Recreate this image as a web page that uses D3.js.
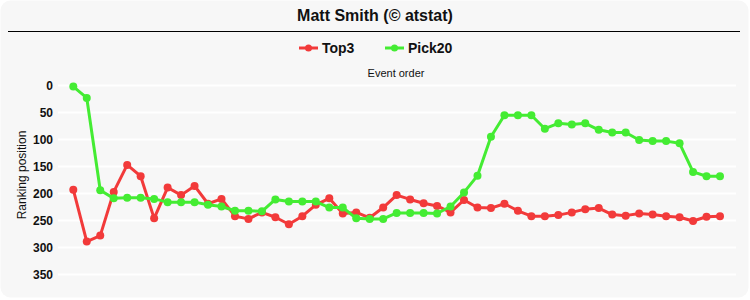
<!DOCTYPE html>
<html>
<head>
<meta charset="utf-8">
<script src="https://cdn.jsdelivr.net/npm/d3@7"></script>
<style>
  body { margin: 0; background: #fff; }
  svg { display: block; }
</style>
</head>
<body>
<script>
// ranking per event, index = event order
var top3 = [193, 289, 278, 197, 147, 168, 246, 189, 203, 186, 219, 210, 242, 247, 235, 244,
            257, 242, 221, 209, 237, 235, 245, 226, 203, 211, 218, 223, 235, 212, 226, 227,
            219, 232, 242, 242, 240, 235, 229, 227, 239, 241, 237, 239, 242, 244, 251, 243, 242];
var pick20 = [2, 23, 194, 209, 208, 208, 210, 216, 216, 216, 221, 224, 232, 232, 233, 211,
              215, 215, 215, 226, 226, 246, 247, 247, 236, 236, 236, 237, 224, 198, 167, 95,
              55, 55, 55, 80, 70, 72, 70, 82, 87, 87, 101, 103, 103, 107, 160, 168, 168];
var yTicks = [0, 50, 100, 150, 200, 250, 300, 350];

var width = 750, height = 300;
var font = '"Liberation Sans", Arial, sans-serif';

var svg = d3.select('body').append('svg')
  .attr('width', width)
  .attr('height', height);

svg.append('rect')
  .attr('x', 0.5).attr('y', 0.5)
  .attr('width', 748).attr('height', 297)
  .attr('rx', 10)
  .attr('fill', '#f7f7f7');

const xScale = d3.scaleLinear()
  .domain([0, top3.length - 1])
  .range([73.3, 720]);

const yScale = d3.scaleLinear()
  .domain([0, 350])
  .range([85.5, 274.5]);

// gridlines
svg.append('g')
  .selectAll('line')
  .data(yTicks)
  .enter().append('line')
    .attr('x1', 58).attr('x2', 736)
    .attr('y1', d => yScale(d)).attr('y2', d => yScale(d))
    .attr('stroke', '#ffffff')
    .attr('stroke-width', 2);

// y axis labels
var yAxis = svg.append('g')
  .attr('transform', 'translate(53,0)')
  .call(d3.axisLeft(yScale).tickValues(yTicks).tickSize(0).tickPadding(0));
yAxis.select('.domain').remove();
yAxis.selectAll('text')
  .attr('font-family', font)
  .attr('font-size', 12)
  .attr('font-weight', 'bold')
  .attr('fill', '#111');

svg.append('text')
  .attr('transform', 'translate(26,175) rotate(-90)')
  .attr('text-anchor', 'middle')
  .attr('font-family', font)
  .attr('font-size', 12)
  .attr('fill', '#111')
  .text('Ranking position');

svg.append('text')
  .attr('x', 396).attr('y', 77)
  .attr('text-anchor', 'middle')
  .attr('font-family', font)
  .attr('font-size', 11)
  .attr('fill', '#111')
  .text('Event order');

// title
svg.append('text')
  .attr('x', 375).attr('y', 21)
  .attr('text-anchor', 'middle')
  .attr('font-family', font)
  .attr('font-size', 16)
  .attr('font-weight', 'bold')
  .attr('fill', '#111')
  .text('Matt Smith (\u00a9 atstat)');

svg.append('line')
  .attr('x1', 8).attr('x2', 740)
  .attr('y1', 31.5).attr('y2', 31.5)
  .attr('stroke', '#000')
  .attr('stroke-width', 1.2);

var series = [
  { name: 'Top3', values: top3, color: '#f23a3a' },
  { name: 'Pick20', values: pick20, color: '#44ec33' }
];

var line = d3.line()
  .x((d, i) => xScale(i))
  .y(d => yScale(d));

series.forEach(function(s) {
  svg.append('path')
    .datum(s.values)
    .attr('fill', 'none')
    .attr('stroke', s.color)
    .attr('stroke-width', 3)
    .attr('stroke-linejoin', 'round')
    .attr('d', line);

  svg.selectAll('.dot-' + s.name)
    .data(s.values)
    .enter().append('circle')
      .attr('cx', (d, i) => xScale(i))
      .attr('cy', d => yScale(d))
      .attr('r', 4)
      .attr('fill', s.color);
});

// legend
var legendX = [299, 385];
series.forEach(function(s, i) {
  var g = svg.append('g').attr('transform', 'translate(' + legendX[i] + ',48)');
  g.append('line')
    .attr('x1', 0).attr('x2', 19)
    .attr('stroke', s.color).attr('stroke-width', 3);
  g.append('circle').attr('cx', 9.5).attr('r', 3.5).attr('fill', s.color);
  g.append('text')
    .attr('x', 23).attr('y', 5)
    .attr('font-family', font)
    .attr('font-size', 14)
    .attr('font-weight', 'bold')
    .attr('fill', '#111')
    .text(s.name);
});
</script>
</body>
</html>
